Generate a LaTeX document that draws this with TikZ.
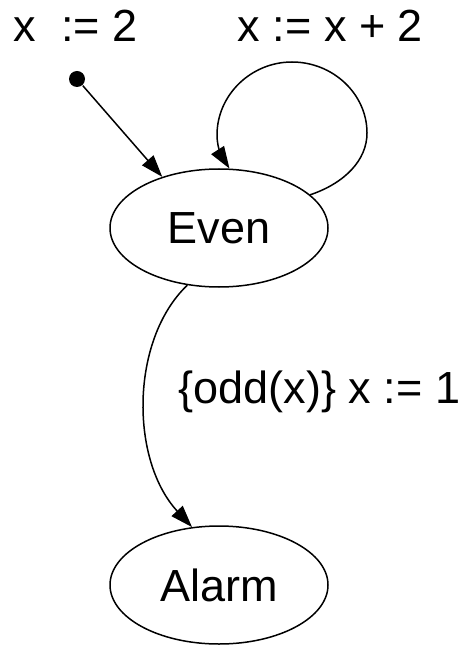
\documentclass[tikz,border=0pt]{standalone}
\usepackage{fontspec}
\setmainfont{Liberation Sans}
\usetikzlibrary{arrows.meta,shapes.geometric}

\begin{document}
\begin{tikzpicture}[x=0.5pt,y=-0.5pt,>={Triangle[length=11pt,width=7.5pt]},line width=0.75pt,
 state/.style={draw,ellipse,minimum width=109pt,minimum height=59pt,inner sep=0pt,font=\fontsize{22.5}{27}\selectfont},
 lab/.style={inner sep=0pt,anchor=base west,font=\fontsize{22.5}{27}\selectfont}]
\useasboundingbox (0,0) rectangle (464,646);
\node[state] (even) at (219,228) {Even};
\node[state] (alarm) at (219,585) {Alarm};
\node[circle,fill,inner sep=0pt,minimum size=8pt] (init) at (77,79) {};
\node[lab] (initlab) at (13,42) {x\ \ := 2};
\node[lab] (looplab) at (237,42) {x := x + 2};
\node[lab] (guardlab) at (178,403) {\{odd(x)\} x := 1};
\draw[->] (init) -- (even.138);
\draw[->] (even.20) .. controls (345,183) and (367,160) .. (367,133)
 .. controls (367,94) and (333,62) .. (292,62)
 .. controls (251,62) and (217,95) .. (217,135)
 .. controls (217,150) and (224,160) .. (even.80);
\draw[->] (even.241) .. controls (130,340) and (130,460) .. (alarm.115);
\end{tikzpicture}
\end{document}
